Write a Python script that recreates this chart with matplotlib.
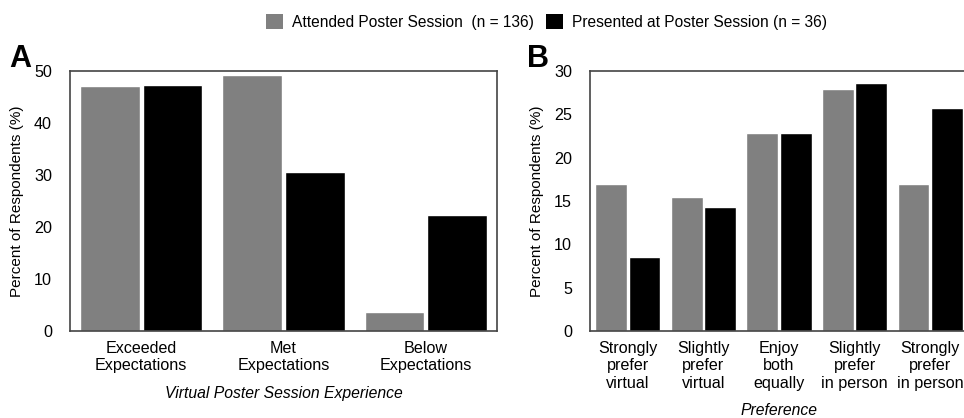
# Poster session survey: experience (A) and preference (B)

import numpy as np
import matplotlib as mpl
mpl.use('Agg')
import matplotlib.pyplot as plt
from matplotlib.patches import Patch

plt.rcParams['font.family'] = ['Liberation Sans', 'DejaVu Sans']

series = ["Attended Poster Session  (n = 136)", "Presented at Poster Session (n = 36)"]
colors = ["#808080", "#000000"]

cats_a = ["Exceeded\nExpectations", "Met\nExpectations", "Below\nExpectations"]
attended_a = [47.06, 49.26, 3.68]
presented_a = [47.22, 30.56, 22.22]

cats_b = ["Strongly\nprefer\nvirtual", "Slightly\nprefer\nvirtual", "Enjoy\nboth\nequally",
          "Slightly\nprefer\nin person", "Strongly\nprefer\nin person"]
attended_b = [16.91, 15.44, 22.79, 27.94, 16.91]
presented_b = [8.57, 14.29, 22.86, 28.57, 25.71]

W, H = 964, 418
fig = plt.figure(figsize=(W/100, H/100), dpi=100)

def px(l, b, r, t):
    return [l/W, 1 - b/H, (r-l)/W, (b-t)/H]

def panel(ax, cats, v1, v2, ymax, step, xlabel, xlabel_pad):
    x = np.arange(len(cats))
    ax.bar(x - 0.22, v1, width=0.42, color=colors[0], edgecolor='white', linewidth=1)
    ax.bar(x + 0.22, v2, width=0.42, color=colors[1], edgecolor='white', linewidth=1)
    ax.set_xlim(-0.5, len(cats) - 0.5)
    ax.set_ylim(0, ymax)
    ax.set_yticks(np.arange(0, ymax + 1, step))
    ax.set_xticks(x)
    ax.set_xticklabels(cats, fontsize=11.6, linespacing=1.2)
    ax.tick_params(axis='y', length=0, pad=13, labelsize=11.6)
    ax.tick_params(axis='x', length=0, pad=7)
    for s in ax.spines.values():
        s.set_color('#444444')
        s.set_linewidth(1.2)
    ax.set_ylabel("Percent of Respondents (%)", fontsize=11, labelpad=7)
    ax.set_xlabel(xlabel, fontsize=11.3, style='italic', labelpad=xlabel_pad)

ax1 = fig.add_axes(px(70, 331, 497, 71))
panel(ax1, cats_a, attended_a, presented_a, 50, 10, "Virtual Poster Session Experience", 9)

ax2 = fig.add_axes(px(590, 331, 968, 71))
panel(ax2, cats_b, attended_b, presented_b, 30, 5, "Preference", 9)

fig.text(9/W, 1 - 67/H, "A", fontsize=22, fontweight='bold')
fig.text(527/W, 1 - 67/H, "B", fontsize=22, fontweight='bold')

handles = [Patch(facecolor=c, edgecolor='none') for c in colors]
fig.legend(handles, series, loc='upper left', bbox_to_anchor=(260/W, 1 - 8/H),
           ncol=2, frameon=False, fontsize=11.2, handlelength=1.05, handleheight=1.05,
           handletextpad=0.6, columnspacing=0.8, borderaxespad=0)

fig.savefig('out.png', dpi=100)
